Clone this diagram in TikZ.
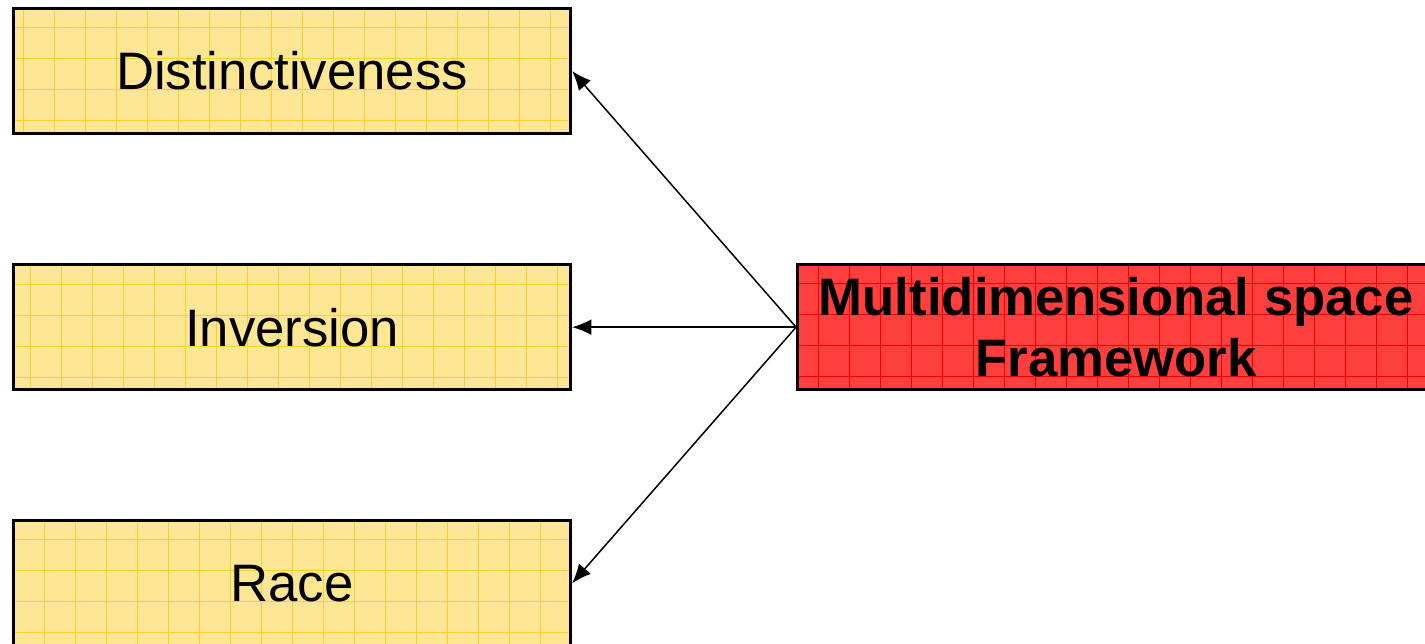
\documentclass[tikz,border=0pt]{standalone}
\usepackage{fontspec}
\setmainfont{Liberation Sans}
\usetikzlibrary{arrows.meta,positioning}
\definecolor{sand}{HTML}{FDE795}
\definecolor{sandline}{HTML}{F8D030}
\definecolor{scarlet}{HTML}{FF3E3E}
\definecolor{scarletline}{HTML}{F00000}

\begin{document}
\begin{tikzpicture}[
  cell/.style={draw,line width=1.8pt,fill=sand,minimum width=11.14cm,minimum height=2.5cm,inner sep=0pt,font=\fontsize{30}{36}\selectfont,
    path picture={\draw[sandline,line width=.5pt,step=.62cm] (path picture bounding box.south west) grid (path picture bounding box.north east);}},
  hub/.style={draw,line width=1.8pt,fill=scarlet,minimum width=12.74cm,minimum height=2.5cm,inner sep=0pt,align=center,font=\fontsize{30}{35}\selectfont\bfseries,
    path picture={\draw[scarletline,line width=.5pt,step=.62cm] (path picture bounding box.south west) grid (path picture bounding box.north east);}},
  link/.style={line width=.85pt,-{Latex[length=11pt,width=9pt]}}]
\useasboundingbox (0,0) rectangle (28.5,-12.88);
\clip (0,0) rectangle (28.5,-12.88);
\node[cell] (dist) at (5.84,-1.42) {Distinctiveness};
\node[cell,below=2.56cm of dist] (inv) {Inversion};
\node[cell,below=2.56cm of inv] (race) {Race};
\node[hub,right=4.48cm of inv] (frame) {Multidimensional space\\Framework};
\draw[link] (frame.west) -- (dist.east);
\draw[link] (frame.west) -- (inv.east);
\draw[link] (frame.west) -- (race.east);
\end{tikzpicture}
\end{document}
